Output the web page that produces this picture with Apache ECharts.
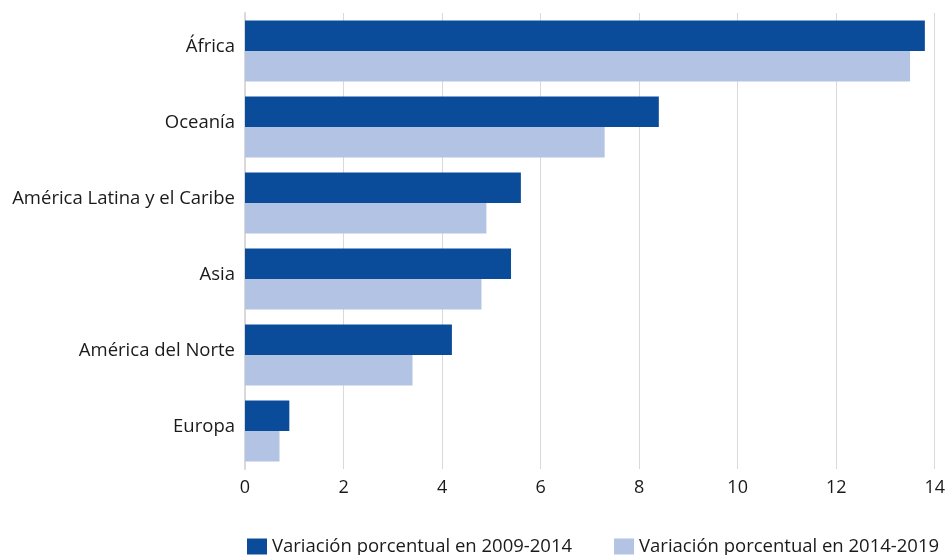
<!DOCTYPE html>
<html>
<head>
<meta charset="utf-8">
<script src="https://cdn.jsdelivr.net/npm/echarts@6/dist/echarts.min.js"></script>
<style>
  html, body { margin: 0; padding: 0; background: #fff; }
  #chart { width: 948px; height: 555px; }
</style>
</head>
<body>
<div id="chart"></div>
<script>
  // regiones, de arriba a abajo
  const regions = ['África', 'Oceanía', 'América Latina y el Caribe', 'Asia', 'América del Norte', 'Europa']
  const var2009_2014 = [13.8, 8.4, 5.6, 5.4, 4.2, 0.9]
  const var2014_2019 = [13.5, 7.3, 4.9, 4.8, 3.4, 0.7]
  const seriesNames = ['Variación porcentual en 2009-2014', 'Variación porcentual en 2014-2019']

  const font = 'Open Sans, Noto Sans, sans-serif'
  const chart = echarts.init(document.getElementById('chart'))
  chart.setOption({
    animation: false,
    textStyle: { fontFamily: font },
    grid: { left: 245, right: 10, top: 13, bottom: 86, containLabel: false },
    legend: {
      top: 532,
      left: 242,
      icon: 'rect',
      itemWidth: 20,
      itemHeight: 16,
      itemGap: 42,
      textStyle: { fontSize: 18.5, color: '#1a1a1a', fontFamily: font },
      data: seriesNames
    },
    xAxis: {
      type: 'value',
      min: 0,
      max: 14,
      interval: 2,
      axisLine: { show: false },
      axisTick: { show: false },
      axisLabel: { fontSize: 18, color: '#1a1a1a', margin: 10 },
      splitLine: { lineStyle: { color: '#d9d9d9', width: 1 } }
    },
    yAxis: {
      type: 'category',
      inverse: true,
      data: regions,
      axisLine: { lineStyle: { color: '#d9d9d9', width: 2 } },
      axisTick: { show: false },
      axisLabel: { fontSize: 18.5, color: '#1a1a1a', margin: 10, verticalAlign: 'bottom', lineHeight: 9 }
    },
    series: [
      {
        name: seriesNames[0],
        type: 'bar',
        data: var2009_2014,
        itemStyle: { color: '#0a4c9a' },
        barGap: '0%',
        barCategoryGap: '20%'
      },
      {
        name: seriesNames[1],
        type: 'bar',
        data: var2014_2019,
        itemStyle: { color: '#b3c3e3' }
      }
    ]
  })
</script>
</body>
</html>
